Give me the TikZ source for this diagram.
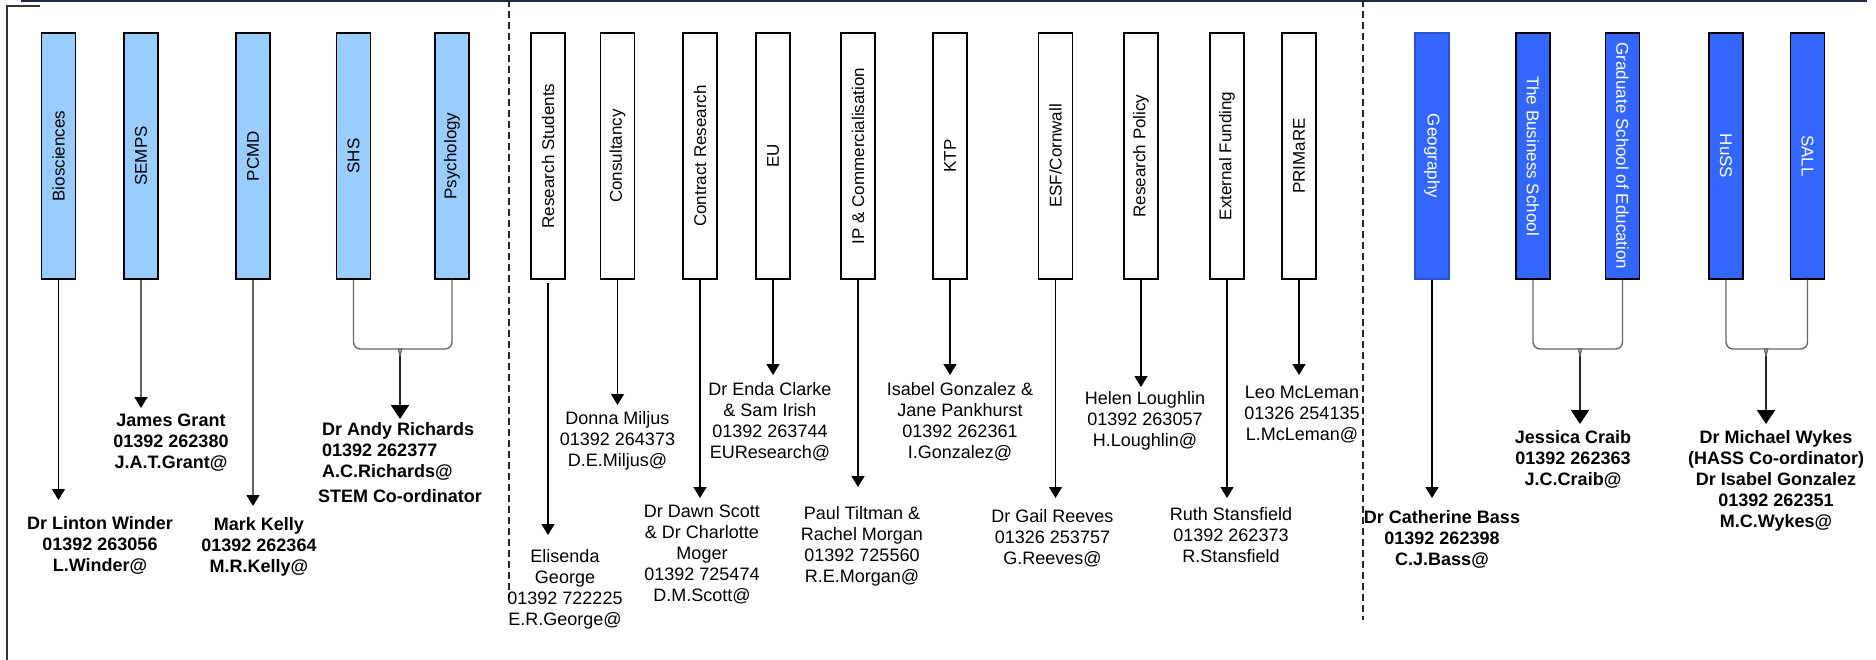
\documentclass[tikz,border=0pt]{standalone}
\usepackage{fontspec}
\setmainfont{Liberation Sans}
\usetikzlibrary{arrows.meta}
\definecolor{lblue}{HTML}{99CCFF}
\definecolor{dblue}{HTML}{3366FF}
\definecolor{navy}{HTML}{1B2A3F}
\begin{document}
\begin{tikzpicture}[x=1pt,y=-1pt,
  box/.style={draw=black, line width=1.4pt, minimum width=246pt, minimum height=34pt, inner sep=0pt, font=\fontsize{17}{17}\selectfont},
  lbox/.style={box, fill=lblue, rotate=90},
  wbox/.style={box, fill=white, rotate=90},
  dbox/.style={box, fill=dblue, text=white, rotate=-90},
  lab/.style={align=center, anchor=north, inner sep=0pt, font=\fontsize{18}{21}\selectfont},
  blab/.style={lab, font=\fontsize{18}{21}\selectfont\bfseries},
  arr/.style={line width=1.4pt, draw=black, -{Triangle[width=13pt,length=11pt,color=black]}},
  garr/.style={arr, draw=black!60},
  gline/.style={line width=1.4pt, draw=black!60, rounded corners=7pt},
  barr/.style={line width=2pt, draw=black!85, -{Triangle[width=18pt,length=14pt,color=black]}},
  sep/.style={line width=1.4pt, draw=black!85, dash pattern=on 7pt off 4pt}
]
\useasboundingbox (0,0) rectangle (1876,660);
% frame
\draw[navy, line width=2.5pt] (21,1) -- (1867,1);
\draw[black!80, line width=1.5pt] (40,6) -- (7,6) -- (7,660);
\draw[sep] (509,0) -- (509,598);
\draw[sep] (1363,0) -- (1363,620);

% left group boxes
\node[lbox] (bio) at (58.5,156) {Biosciences};
\node[lbox] (semps) at (141,156) {SEMPS};
\node[lbox] (pcmd) at (253,156) {PCMD};
\node[lbox] (shs) at (353.5,156) {SHS};
\node[lbox] (psy) at (452,156) {Psychology};

% middle boxes
\node[wbox] (rs) at (548,156) {Research Students};
\node[wbox] (cons) at (617.5,156) {Consultancy};
\node[wbox] (cr) at (700,156) {Contract Research};
\node[wbox] (eu) at (773,156) {EU};
\node[wbox] (ip) at (858,156) {IP \& Commercialisation};
\node[wbox] (ktp) at (950,156) {KTP};
\node[wbox] (esf) at (1055.5,156) {ESF/Cornwall};
\node[wbox] (rp) at (1141,156) {Research Policy};
\node[wbox] (ef) at (1227,156) {External Funding};
\node[wbox] (pr) at (1299,156) {PRIMaRE};

% right boxes
\node[dbox, draw=dblue!80!black] (geo) at (1432,156) {Geography};
\node[dbox] (bs) at (1533,156) {The Business School};
\node[dbox] (gse) at (1622.5,156) {Graduate School of Education};
\node[dbox] (huss) at (1726,156) {HuSS};
\node[dbox] (sall) at (1807.5,156) {SALL};

% labels left
\node[blab] (winder) at (100,516) {Dr Linton Winder\\01392 263056\\L.Winder@};
\node[blab] (grant) at (171,414) {James Grant\\01392 262380\\J.A.T.Grant@};
\node[blab] (kelly) at (259,517) {Mark Kelly\\01392 262364\\M.R.Kelly@};
\node[blab, anchor=north west, align=left] (rich) at (322,422) {Dr Andy Richards\\01392 262377\\A.C.Richards@};
\node[blab] (stem) at (400,489) {STEM Co-ordinator};

% labels middle
\node[lab] (george) at (565,549) {Elisenda\\George\\01392 722225\\E.R.George@};
\node[lab] (miljus) at (617.5,411) {Donna Miljus\\01392 264373\\D.E.Miljus@};
\node[lab] (scott) at (702,505) {Dr Dawn Scott\\\& Dr Charlotte\\Moger\\01392 725474\\D.M.Scott@};
\node[lab] (clarke) at (770,382) {Dr Enda Clarke\\\& Sam Irish\\01392 263744\\EUResearch@};
\node[lab] (morgan) at (862,506) {Paul Tiltman \&\\Rachel Morgan\\01392 725560\\R.E.Morgan@};
\node[lab] (gonz) at (960,382) {Isabel Gonzalez \&\\Jane Pankhurst\\01392 262361\\I.Gonzalez@};
\node[lab] (reeves) at (1052.5,509) {Dr Gail Reeves\\01326 253757\\G.Reeves@};
\node[lab] (lough) at (1145,391) {Helen Loughlin\\01392 263057\\H.Loughlin@};
\node[lab] (stans) at (1231,507) {Ruth Stansfield\\01392 262373\\R.Stansfield};
\node[lab] (mcl) at (1302,386) {Leo McLeman\\01326 254135\\L.McLeman@};

% labels right
\node[blab] (bass) at (1442,510) {Dr Catherine Bass\\01392 262398\\C.J.Bass@};
\node[blab] (craib) at (1573,430) {Jessica Craib\\01392 262363\\J.C.Craib@};
\node[blab] (wykes) at (1776,430) {Dr Michael Wykes\\(HASS Co-ordinator)\\Dr Isabel Gonzalez\\01392 262351\\M.C.Wykes@};

% arrow tip coordinates
\coordinate (tbio) at (58.5,500);
\coordinate (tsemps) at (141,408);
\coordinate (tpcmd) at (253,506);
\coordinate (jl) at (400,356);
\coordinate (trich) at (400,419);
\coordinate (srs) at (548,283);
\coordinate (trs) at (548,535);
\coordinate (tcons) at (617.5,405);
\coordinate (tcr) at (700,498);
\coordinate (teu) at (773,375);
\coordinate (tip) at (858,487);
\coordinate (tktp) at (950,375);
\coordinate (tesf) at (1055.5,498);
\coordinate (trp) at (1141,387);
\coordinate (tef) at (1227,498);
\coordinate (tpr) at (1299,375);
\coordinate (tgeo) at (1432,498);
\coordinate (jb) at (1580,356);
\coordinate (tcraib) at (1580,424);
\coordinate (jh) at (1766,356);
\coordinate (twykes) at (1766,424);

% connectors left
\draw[arr] (bio.west) -- (tbio);
\draw[garr] (semps.west) -- (tsemps);
\draw[garr] (pcmd.west) -- (tpcmd);
\draw[gline] (shs.west) |- (393,349) to[out=0,in=90] (jl);
\draw[gline] (psy.west) |- (407,349) to[out=180,in=90] (jl);
\draw[barr] (jl) -- (trich);

% connectors middle
\draw[arr] (srs) -- (trs);
\draw[arr] (cons.west) -- (tcons);
\draw[arr] (cr.west) -- (tcr);
\draw[arr] (eu.west) -- (teu);
\draw[arr] (ip.west) -- (tip);
\draw[arr] (ktp.west) -- (tktp);
\draw[arr] (esf.west) -- (tesf);
\draw[arr] (rp.west) -- (trp);
\draw[arr] (ef.west) -- (tef);
\draw[arr] (pr.west) -- (tpr);

% connectors right
\draw[arr] (geo.east) -- (tgeo);
\draw[gline] (bs.east) |- (1573,349) to[out=0,in=90] (jb);
\draw[gline] (gse.east) |- (1587,349) to[out=180,in=90] (jb);
\draw[barr] (jb) -- (tcraib);
\draw[gline] (huss.east) |- (1759,349) to[out=0,in=90] (jh);
\draw[gline] (sall.east) |- (1773,349) to[out=180,in=90] (jh);
\draw[barr] (jh) -- (twykes);
\end{tikzpicture}
\end{document}
